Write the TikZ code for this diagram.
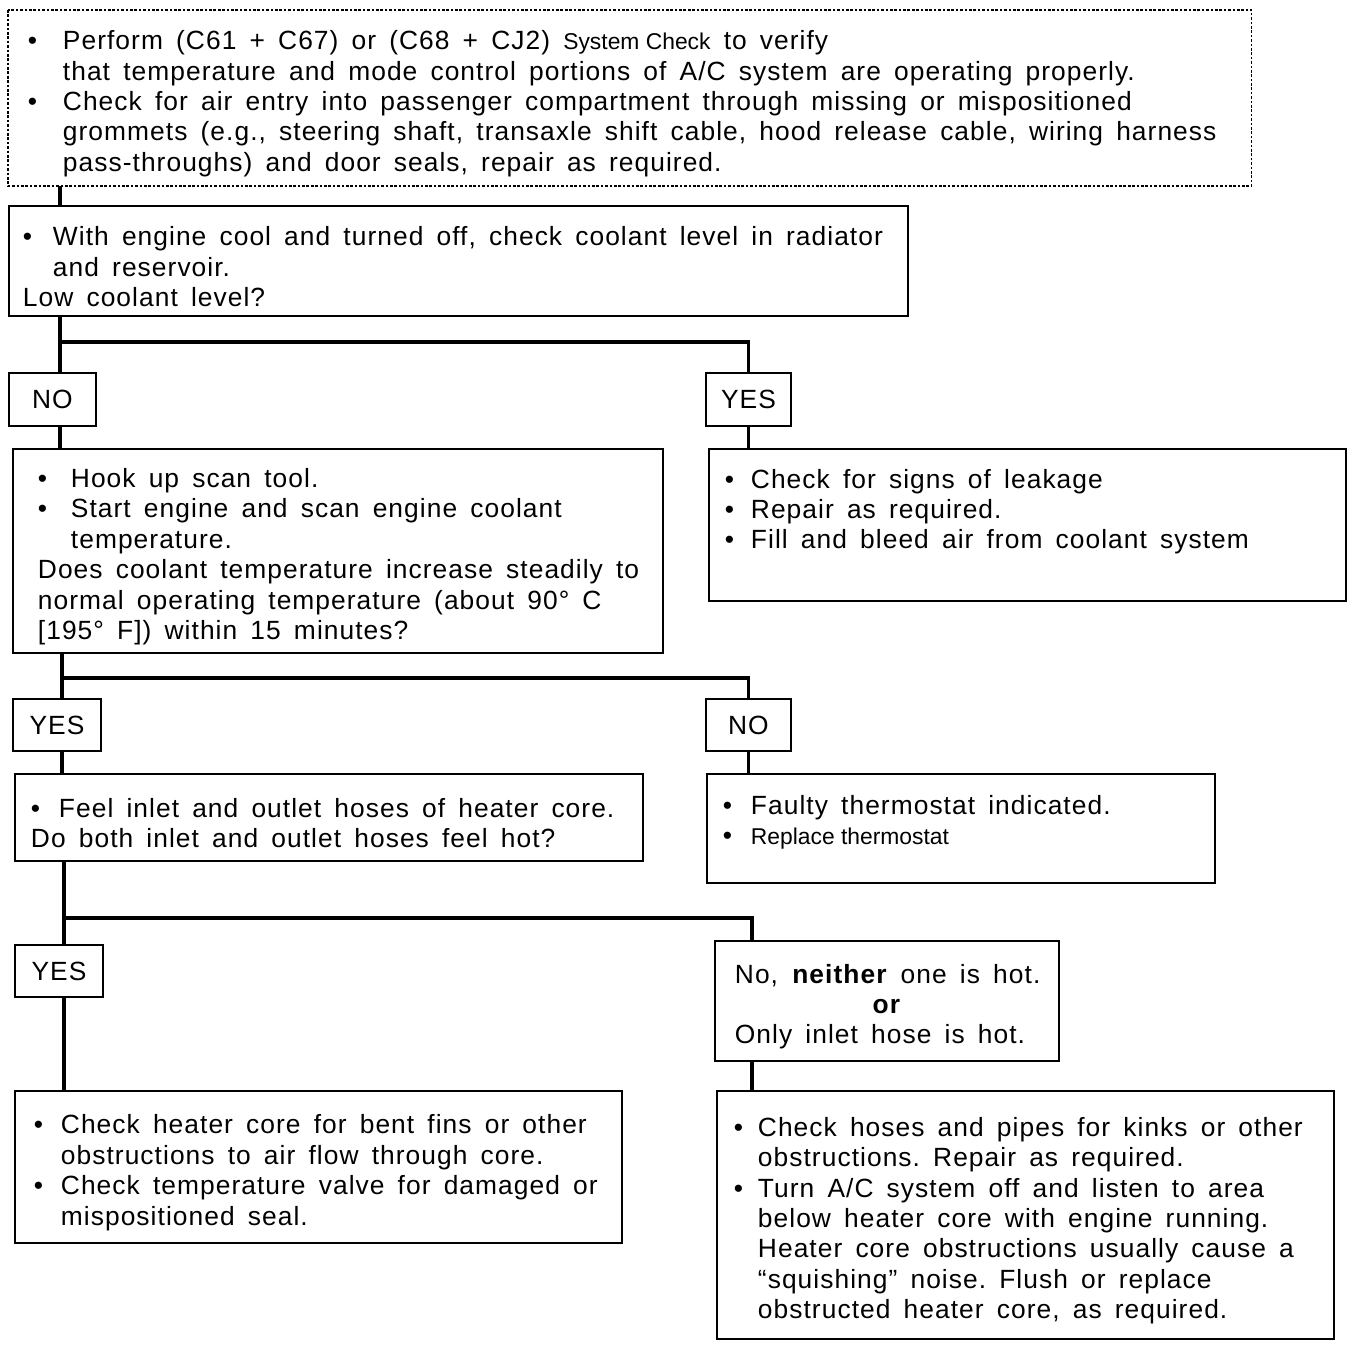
\documentclass[tikz,border=0pt]{standalone}
\usepackage{fontspec}
\setmainfont{Liberation Sans}[LetterSpace=4]
\newfontfamily\plainsans{Liberation Sans}
\usepackage{tikz}

\newlength{\bulletgap}
\setlength{\bulletgap}{0.56cm}
\newcommand{\flowfont}{\fontsize{15}{17.3}\selectfont}
\newcommand{\widespace}{\spaceskip=0.5em\relax}
\newcommand{\smallfont}{\plainsans\fontsize{13}{14}\selectfont\spaceskip=0pt\relax}
\newcommand{\itemline}[1]{\par\noindent\makebox[\bulletgap][l]{•}\mbox{\widespace #1}}
\newcommand{\moreline}[1]{\par\noindent\hspace*{\bulletgap}\mbox{\widespace #1}}
\newcommand{\plainline}[1]{\par\noindent\mbox{\widespace #1}}
\newcommand{\toptext}[2]{\vbox to #1{#2\par\vfil}}

\begin{document}
\begin{tikzpicture}[
  x=0.02cm, y=-0.02cm,
  panel/.style={draw, line width=1.1pt, anchor=north west, inner ysep=0pt, font=\flowfont},
  answer/.style={draw, line width=1.1pt, anchor=north west, inner sep=0pt, font=\flowfont},
  link/.style={line width=1.8pt}
]
\useasboundingbox (0,0) rectangle (1360,1348);

% preliminary checks
\node[panel, draw=none, text width=24.08cm, inner xsep=0.38cm, minimum height=3.48cm] (check) at (8,10)
  {\setlength{\bulletgap}{0.7cm}%
   \itemline{Perform (C61 + C67) or (C68 + CJ2) {\smallfont System Check} to verify}
   \moreline{that temperature and mode control portions of A/C system are operating properly.}
   \itemline{Check for air entry into passenger compartment through missing or mispositioned}
   \moreline{grommets (e.g., steering shaft, transaxle shift cable, hood release cable, wiring harness}
   \moreline{pass-throughs) and door seals, repair as required.}};
\draw[line width=0.7pt, dash pattern=on 1.5pt off 1pt] (check.north west) rectangle (check.south east);

\node[panel, text width=17.42cm, inner xsep=0.28cm, minimum height=2.2cm] (level) at (8,205)
  {\setlength{\bulletgap}{0.6cm}%
   \itemline{With engine cool and turned off, check coolant level in radiator}
   \moreline{and reservoir.}
   \plainline{Low coolant level?}};

% first answer
\node[answer, minimum width=1.74cm, minimum height=1.06cm] (no1) at (8,372) {NO};
\node[answer, minimum width=1.7cm, minimum height=1.06cm] (yes1) at (705,372) {YES};

\node[panel, text width=12cm, inner xsep=0.5cm, minimum height=4.08cm] (scan) at (12,448)
  {\setlength{\bulletgap}{0.66cm}%
   \itemline{Hook up scan tool.}
   \itemline{Start engine and scan engine coolant}
   \moreline{temperature.}
   \plainline{Does coolant temperature increase steadily to}
   \plainline{normal operating temperature (about 90° C}
   \plainline{[195° F]) within 15 minutes?}};
\node[panel, text width=12.1cm, inner xsep=0.32cm, minimum height=3.04cm] (leak) at (708,448)
  {\setlength{\bulletgap}{0.52cm}%
   \toptext{2.24cm}{%
   \itemline{Check for signs of leakage}
   \itemline{Repair as required.}
   \itemline{Fill and bleed air from coolant system}}};

% second answer
\node[answer, minimum width=1.76cm, minimum height=1.04cm] (yes2) at (12,698) {YES};
\node[answer, minimum width=1.7cm, minimum height=1.04cm] (no2) at (705,698) {NO};

\node[panel, text width=11.92cm, inner xsep=0.32cm, minimum height=1.74cm] (hoses) at (14,773)
  {\itemline{Feel inlet and outlet hoses of heater core.}
   \plainline{Do both inlet and outlet hoses feel hot?}};
\node[panel, text width=9.52cm, inner xsep=0.32cm, minimum height=2.18cm] (thermo) at (706,773)
  {\toptext{1.34cm}{%
   \itemline{Faulty thermostat indicated.}
   \itemline{{\smallfont Replace thermostat}}}};

% third answer
\node[answer, minimum width=1.76cm, minimum height=1.04cm] (yes3) at (14,944) {YES};
\node[panel, text width=6.08cm, inner xsep=0.4cm, minimum height=2.4cm] (neither) at (714,940)
  {\plainline{No, \textbf{neither} one is hot.}
   \par\centerline{\textbf{or}}
   \plainline{Only inlet hose is hot.}};

\node[panel, text width=11.38cm, inner xsep=0.38cm, minimum height=3.04cm] (core) at (14,1090)
  {\setlength{\bulletgap}{0.54cm}%
   \itemline{Check heater core for bent fins or other}
   \moreline{obstructions to air flow through core.}
   \itemline{Check temperature valve for damaged or}
   \moreline{mispositioned seal.}};
\node[panel, text width=11.66cm, inner xsep=0.34cm, minimum height=4.96cm] (kinks) at (716,1090)
  {\setlength{\bulletgap}{0.48cm}%
   \itemline{Check hoses and pipes for kinks or other}
   \moreline{obstructions. Repair as required.}
   \itemline{Turn A/C system off and listen to area}
   \moreline{below heater core with engine running.}
   \moreline{Heater core obstructions usually cause a}
   \moreline{``squishing'' noise. Flush or replace}
   \moreline{obstructed heater core, as required.}};

% branch points
\coordinate (j1) at (60,342);
\coordinate (j2) at (62,678);
\coordinate (j3) at (64,918);
\coordinate (j3r) at (752,918);

\draw[link] (check.south -| j1) -- (level.north -| j1);
\draw[link] (level.south -| j1) -- (no1.north -| j1);
\draw[link] (j1) -| (yes1.north);
\draw[link] (no1.south -| j1) -- (scan.north -| j1);
\draw[link] (yes1.south) -- (yes1.south |- leak.north);
\draw[link] (scan.south -| j2) -- (yes2.north -| j2);
\draw[link] (j2) -| (no2.north);
\draw[link] (yes2.south -| j2) -- (hoses.north -| j2);
\draw[link] (no2.south) -- (no2.south |- thermo.north);
\draw[link] (hoses.south -| j3) -- (yes3.north -| j3);
\draw[link] (j3) -- (j3r) -- (neither.north -| j3r);
\draw[link] (yes3.south -| j3) -- (core.north -| j3);
\draw[link] (neither.south -| j3r) -- (kinks.north -| j3r);
\end{tikzpicture}
\end{document}
